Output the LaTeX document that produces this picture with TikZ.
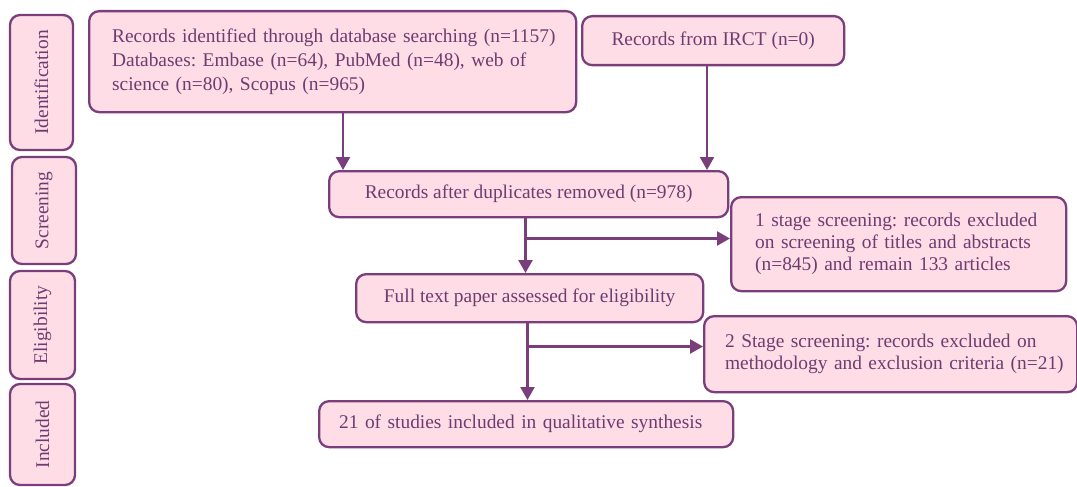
\documentclass[tikz,border=0pt]{standalone}
\usepackage{fontspec}
\setmainfont{Liberation Serif}
\usetikzlibrary{arrows.meta,calc}
\definecolor{boxfill}{RGB}{255,221,230}
\definecolor{boxline}{RGB}{122,62,122}
\definecolor{boxtext}{RGB}{110,60,112}
\frenchspacing
\begin{document}
\begin{tikzpicture}[x=1pt,y=-1pt,
  box/.style={draw=boxline, fill=boxfill, line width=2.3pt, rounded corners=10pt,
    text=boxtext, font=\fontsize{19.4}{23}\selectfont, inner sep=0pt},
  side/.style={box, rotate=90},
  arr/.style={draw=boxline, line width=2.3pt, -{Triangle[length=13pt,width=14pt]}},
  ln/.style={draw=boxline, line width=2.3pt}]
\useasboundingbox (0,0) rectangle (1077,487);

% stage labels
\node[side, minimum width=135pt, minimum height=63pt] (sid) at (41.5,82.5) {Identification};
\node[side, minimum width=107pt, minimum height=64pt] (sscr) at (44,210.5) {Screening};
\node[side, minimum width=108pt, minimum height=65pt] (selig) at (42.5,325) {Eligibility};
\node[side, minimum width=101pt, minimum height=65pt] (sinc) at (42.5,434.5) {Included};

% main boxes
\node[box, anchor=north west, minimum height=101pt, text width=441pt, inner xsep=23pt, align=left,
  font=\fontsize{19.4}{24}\selectfont] (ident) at (88,10)
  {\mbox{Records identified through database searching (n=1157)}\\
   \mbox{Databases: Embase (n=64), PubMed (n=48), web of}\\
   \mbox{science (n=80), Scopus (n=965)}};
\node[box, anchor=north west, minimum width=262pt, minimum height=49pt] (irct) at (581,15)
  {Records from IRCT (n=0)};
\node[box, anchor=north west, minimum width=399pt, minimum height=46pt] (ded) at (328,170)
  {Records after duplicates removed (n=978)};
\node[box, anchor=north west, minimum height=94pt, text width=287pt, inner xsep=24pt, align=left,
  font=\fontsize{19.4}{22}\selectfont] (st1) at (730,196)
  {\mbox{1 stage screening: records excluded}\\
   \mbox{on screening of titles and abstracts}\\
   \mbox{(n=845) and remain 133 articles}};
\node[box, anchor=north west, minimum width=347pt, minimum height=48pt] (full) at (355,273)
  {Full text paper assessed for eligibility};
\node[box, anchor=north west, minimum height=76pt, text width=331pt, inner xsep=21pt, align=left,
  font=\fontsize{19.4}{22}\selectfont] (st2) at (703,315)
  {\mbox{2 Stage screening: records excluded on}\\
   \mbox{methodology and exclusion criteria (n=21)}};
\node[box, anchor=north west, minimum height=46pt, text width=374pt, inner xsep=20pt, align=left] (incl) at (318,400)
  {21 of studies included in qualitative synthesis};

% connector x positions
\coordinate (c1) at (343,0);
\coordinate (c2) at (707,0);
\coordinate (c3) at (525.5,0);
\coordinate (c4) at (527.5,0);
\coordinate (b1) at (0,238.5);
\coordinate (b2) at (0,346.5);

\draw[arr] (c1 |- ident.south) -- (c1 |- ded.north);
\draw[arr] (c2 |- irct.south) -- (c2 |- ded.north);
\draw[arr] (c3 |- ded.south) -- (c3 |- full.north);
\draw[arr] (c3 |- b1) -- (st1.west |- b1);
\draw[arr] (c4 |- full.south) -- (c4 |- incl.north);
\draw[arr] (c4 |- b2) -- (st2.west |- b2);
\end{tikzpicture}
\end{document}
